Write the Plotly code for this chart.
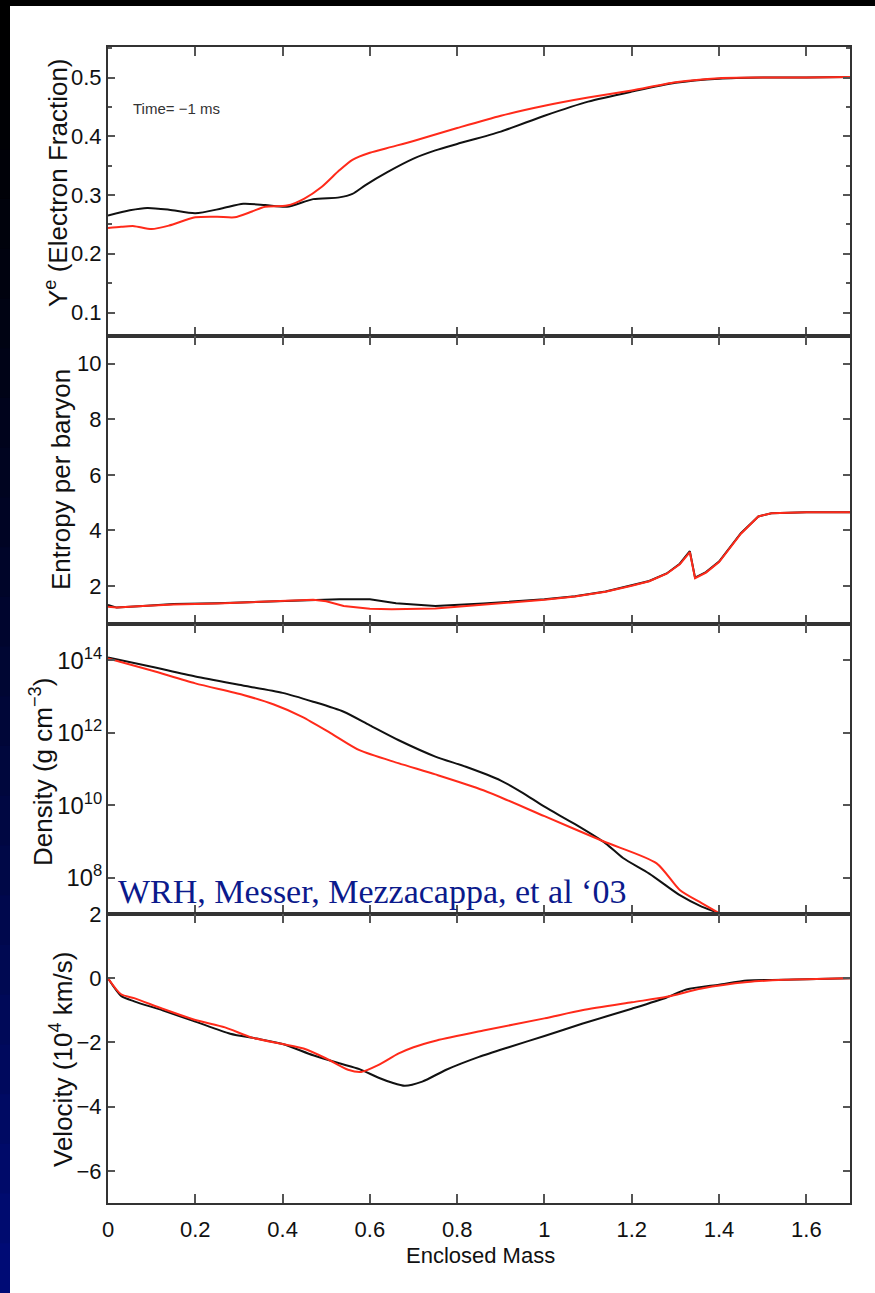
import plotly.graph_objects as go

W, H = 875, 1293

# ---------------- data ----------------
mass_ticks = [0, 0.2, 0.4, 0.6, 0.8, 1.0, 1.2, 1.4, 1.6]

# Panel 1: electron fraction
ye_black_x = [0, 0.05, 0.09, 0.14, 0.2, 0.26, 0.31, 0.36, 0.41, 0.47, 0.53, 0.56, 0.59, 0.64, 0.7, 0.75,
              0.8, 0.9, 1.0, 1.1, 1.2, 1.3, 1.4, 1.5, 1.6, 1.7]
ye_black = [0.265, 0.274, 0.278, 0.275, 0.269, 0.277, 0.285, 0.283, 0.280, 0.293, 0.296, 0.302, 0.317, 0.339,
            0.362, 0.376, 0.387, 0.408, 0.435, 0.459, 0.476, 0.491, 0.498, 0.500, 0.500, 0.501]
ye_red_x = [0, 0.03, 0.06, 0.1, 0.14, 0.2, 0.25, 0.29, 0.33, 0.36, 0.41, 0.45, 0.49, 0.53, 0.56, 0.6, 0.65,
            0.7, 0.8, 0.9, 1.0, 1.1, 1.2, 1.3, 1.4, 1.5, 1.6, 1.7]
ye_red = [0.244, 0.246, 0.247, 0.242, 0.248, 0.262, 0.263, 0.262, 0.272, 0.280, 0.282, 0.294, 0.314, 0.342,
          0.360, 0.372, 0.382, 0.392, 0.414, 0.435, 0.452, 0.466, 0.478, 0.492, 0.499, 0.500, 0.500, 0.501]

# Panel 2: entropy per baryon
s_black_x = [0, 0.02, 0.08, 0.15, 0.25, 0.39, 0.53, 0.6, 0.66, 0.75, 0.86, 1.0, 1.07, 1.14, 1.2, 1.24, 1.28,
             1.31, 1.333, 1.345, 1.37, 1.4, 1.45, 1.49, 1.52, 1.55, 1.6, 1.7]
s_black = [1.32, 1.22, 1.28, 1.35, 1.38, 1.46, 1.52, 1.52, 1.38, 1.28, 1.37, 1.52, 1.63, 1.80, 2.02, 2.18,
           2.45, 2.80, 3.25, 2.30, 2.50, 2.88, 3.90, 4.50, 4.62, 4.64, 4.65, 4.65]
s_red_x = [0, 0.02, 0.08, 0.15, 0.25, 0.39, 0.47, 0.5, 0.54, 0.6, 0.65, 0.75, 0.86, 1.0, 1.07, 1.14, 1.2,
           1.24, 1.28, 1.31, 1.333, 1.345, 1.37, 1.4, 1.45, 1.49, 1.52, 1.55, 1.6, 1.7]
s_red = [1.25, 1.22, 1.28, 1.33, 1.37, 1.46, 1.50, 1.45, 1.28, 1.18, 1.16, 1.19, 1.32, 1.50, 1.62, 1.79,
         2.01, 2.17, 2.44, 2.78, 3.22, 2.28, 2.48, 2.86, 3.88, 4.50, 4.62, 4.64, 4.65, 4.65]

# Panel 3: density (g cm^-3)
rho_black_x = [0, 0.1, 0.2, 0.3, 0.4, 0.47, 0.54, 0.6, 0.665, 0.75, 0.82, 0.9, 0.95, 1.0, 1.07, 1.14, 1.18,
               1.24, 1.31, 1.36, 1.40]
rho_black = [1.2e14, 6.6e13, 3.55e13, 2.1e13, 1.26e13, 7.2e12, 3.8e12, 1.6e12, 6.3e11, 2.2e11, 1.15e11,
             4.8e10, 2.2e10, 9.1e9, 3.0e9, 8.9e8, 3.5e8, 1.3e8, 3.3e7, 1.6e7, 1.05e7]
rho_red_x = [0, 0.1, 0.2, 0.31, 0.38, 0.445, 0.51, 0.576, 0.665, 0.75, 0.86, 1.0, 1.136, 1.257, 1.31, 1.36, 1.40]
rho_red = [1.12e14, 5.2e13, 2.3e13, 1.1e13, 6.0e12, 2.75e12, 9.8e11, 3.3e11, 1.45e11, 7.1e10, 2.6e10, 5.0e9,
           1.0e9, 2.5e8, 4.6e7, 2.0e7, 1.05e7]

# Panel 4: velocity (10^4 km/s)
v_black_x = [0, 0.03, 0.06, 0.125, 0.2, 0.28, 0.34, 0.4, 0.47, 0.53, 0.576, 0.62, 0.65, 0.68, 0.72, 0.775,
             0.85, 0.92, 1.0, 1.086, 1.2, 1.28, 1.325, 1.4, 1.465, 1.55, 1.7]
v_black = [0, -0.55, -0.72, -1.0, -1.35, -1.73, -1.88, -2.05, -2.4, -2.65, -2.83, -3.1, -3.25, -3.35, -3.22,
           -2.85, -2.45, -2.14, -1.8, -1.42, -0.95, -0.6, -0.35, -0.2, -0.07, -0.05, 0]
v_red_x = [0, 0.03, 0.06, 0.125, 0.2, 0.268, 0.33, 0.4, 0.448, 0.5, 0.55, 0.58, 0.62, 0.665, 0.7, 0.753,
           0.86, 1.0, 1.086, 1.2, 1.28, 1.36, 1.465, 1.55, 1.7]
v_red = [0, -0.5, -0.62, -0.95, -1.3, -1.53, -1.85, -2.05, -2.19, -2.5, -2.85, -2.92, -2.7, -2.35, -2.15,
         -1.94, -1.63, -1.25, -1.0, -0.75, -0.58, -0.32, -0.12, -0.05, 0]

# ---------------- figure ----------------
def px(x):
    return x / W

def py(y):
    return 1 - y / H

BLACK = "#111111"
RED = "#ff2a1a"
LW = 2.0

fig = go.Figure()

panels = [
    (ye_black_x, ye_black, ye_red_x, ye_red, "spline"),
    (s_black_x, s_black, s_red_x, s_red, "linear"),
    (rho_black_x, rho_black, rho_red_x, rho_red, "spline"),
    (v_black_x, v_black, v_red_x, v_red, "spline"),
]
for i, (bx, by, rx, ry, shape) in enumerate(panels):
    n = "" if i == 0 else str(i + 1)
    line_kw = dict(width=LW, shape=shape)
    if shape == "spline":
        line_kw["smoothing"] = 0.7
    fig.add_trace(go.Scatter(x=bx, y=by, mode="lines", line=dict(color=BLACK, **line_kw),
                             xaxis="x" + n, yaxis="y" + n, showlegend=False, hoverinfo="skip"))
    fig.add_trace(go.Scatter(x=rx, y=ry, mode="lines", line=dict(color=RED, **line_kw),
                             xaxis="x" + n, yaxis="y" + n, showlegend=False, hoverinfo="skip"))

xdom = [px(108), px(850)]
FONT = "Liberation Sans, Arial, sans-serif"
tickfont = dict(family=FONT, size=22, color="#111111")
axis_common = dict(showline=True, linecolor="#333333", linewidth=2, mirror="ticks", ticks="inside",
                   tickcolor="#555555", tickwidth=1.5, showgrid=False, zeroline=False, automargin=False)

layout = dict(width=W, height=H, margin=dict(l=0, r=0, t=0, b=0, pad=0, autoexpand=False),
              paper_bgcolor="white", plot_bgcolor="white", showlegend=False,
              font=dict(family=FONT, color="#111111"))

for i in range(4):
    n = "" if i == 0 else str(i + 1)
    layout["xaxis" + n] = dict(domain=xdom, range=[0, 1.7], anchor="y" + n, tickvals=mass_ticks,
                               ticklen=9, showticklabels=(i == 3), ticklabelstandoff=6,
                               tickfont=tickfont, **axis_common)

layout["yaxis"] = dict(domain=[py(336), py(47)], range=[0.06, 0.552], anchor="x", dtick=0.1, tick0=0,
                       ticklen=7, tickfont=tickfont,
                       minor=dict(dtick=0.05, tick0=0, ticks="inside", ticklen=4,
                                  tickcolor="#555555", tickwidth=1.5, showgrid=False),
                       **axis_common)
layout["yaxis2"] = dict(domain=[py(624), py(336)], range=[0.63, 11], anchor="x2", dtick=2, tick0=0,
                        ticklen=7, tickfont=tickfont, **axis_common)
layout["yaxis3"] = dict(domain=[py(914), py(624)], type="log", range=[7, 15], anchor="x3", dtick=2,
                        tick0=0, exponentformat="power", ticklen=7,
                        tickfont=dict(family=FONT, size=19, color="#111111"), **axis_common)
layout["yaxis4"] = dict(domain=[py(1203), py(914)], range=[-7, 2], anchor="x4", dtick=2, tick0=0,
                        ticklen=7, tickfont=tickfont, **axis_common)

title_font = dict(family=FONT, size=26, color="#111111")
annotations = [
    dict(text="Y<sup>e</sup> (Electron Fraction)", x=px(56), y=py(183), textangle=-90),
    dict(text="Entropy per baryon", x=px(61), y=py(480), textangle=-90),
    dict(text="Density (g cm<sup>\u22123</sup>)", x=px(41), y=py(772), textangle=-90),
    dict(text="Velocity (10<sup>4</sup> km/s)", x=px(61), y=py(1060), textangle=-90),
]
for a in annotations:
    a.update(xref="paper", yref="paper", showarrow=False, xanchor="center", yanchor="middle",
             font=title_font)
annotations.append(dict(text="Enclosed Mass", x=px(480), y=py(1255), xref="paper", yref="paper",
                        showarrow=False, xanchor="center", yanchor="middle",
                        font=dict(family=FONT, size=22, color="#111111")))
annotations.append(dict(text="Time= \u22121 ms", x=px(131), y=py(108), xref="paper", yref="paper",
                        showarrow=False, xanchor="left", yanchor="middle",
                        font=dict(family=FONT, size=15, color="#333333")))
annotations.append(dict(text="WRH, Messer, Mezzacappa, et al \u201803", x=px(116), y=py(891), xref="paper",
                        yref="paper", showarrow=False, xanchor="left", yanchor="middle",
                        font=dict(family="Liberation Serif, Times New Roman, serif", size=34,
                                  color="#0b1a8c")))
layout["annotations"] = annotations

# dark slide frame: black top strip and a left strip fading from black to navy
shapes = []
nb = 26
band = H / nb
for k in range(nb):
    t = (k + 0.5) / nb
    g = int(12 * t)
    b = int(120 * t ** 1.3)
    top = k * band
    bot = min(H, (k + 1) * band + 2)
    shapes.append(dict(type="rect", xref="paper", yref="paper", x0=0, x1=px(10),
                       y0=py(bot), y1=py(top),
                       fillcolor=f"rgb(0,{g},{b})", line=dict(width=0), layer="above"))
shapes.append(dict(type="rect", xref="paper", yref="paper", x0=0, x1=1, y0=py(6), y1=1,
                   fillcolor="#000000", line=dict(width=0), layer="above"))
layout["shapes"] = shapes

fig.update_layout(**layout)
fig.write_html("out.html", post_script="document.body.style.margin='0px';")
